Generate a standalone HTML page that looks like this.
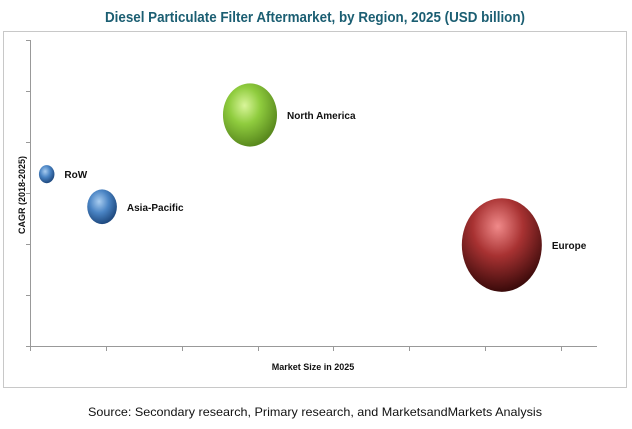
<!DOCTYPE html>
<html><head><meta charset="utf-8"><style>
body{margin:0;background:#fff;width:632px;height:429px;overflow:hidden}
svg{display:block}
</style></head><body>
<svg id="chart" width="632" height="429" viewBox="0 0 632 429">
<defs>
<radialGradient id="gGreen" cx="0.4" cy="0.35" r="0.65"><stop offset="0" stop-color="#d9f59a"/><stop offset="0.45" stop-color="#8fcc3e"/><stop offset="1" stop-color="#5a8a1e"/></radialGradient>
<radialGradient id="gBlue" cx="0.4" cy="0.35" r="0.65"><stop offset="0" stop-color="#a9cdf0"/><stop offset="0.5" stop-color="#4a84c4"/><stop offset="1" stop-color="#1f4a80"/></radialGradient>
<radialGradient id="gRed" cx="0.45" cy="0.3" r="0.7"><stop offset="0" stop-color="#f08a8a"/><stop offset="0.45" stop-color="#a83232"/><stop offset="1" stop-color="#3a0a0a"/></radialGradient>
</defs>
<text x="315" y="22" text-anchor="middle" font-family="'Liberation Sans Narrow','Liberation Sans',sans-serif" font-weight="bold" font-size="15" fill="#1b5e72" textLength="420" lengthAdjust="spacingAndGlyphs">Diesel Particulate Filter Aftermarket, by Region, 2025 (USD billion)</text>
<rect x="3.5" y="31.5" width="623" height="356" fill="none" stroke="#c8c8c8" stroke-width="1"/>
<g id="axes"></g>
<g id="bubbles"></g>
<text x="313" y="370" text-anchor="middle" font-family="'Liberation Sans',sans-serif" font-weight="bold" font-size="9" fill="#111">Market Size in 2025</text>
<text transform="translate(25,195) rotate(-90)" text-anchor="middle" font-family="'Liberation Sans',sans-serif" font-weight="bold" font-size="9" fill="#111">CAGR (2018-2025)</text>
<text x="315" y="416" text-anchor="middle" font-family="'Liberation Sans',sans-serif" font-size="12" fill="#111" textLength="454" lengthAdjust="spacingAndGlyphs">Source: Secondary research, Primary research, and MarketsandMarkets Analysis</text>
</svg>
<script>
const regions = ["RoW", "Asia-Pacific", "North America", "Europe"];
const marketSize = [0.22, 0.95, 2.9, 6.22];
const cagr = [3.37, 2.73, 4.53, 1.98];
const bubbleSize = [0.6, 2.2, 7.3, 16];
const colors = ["url(#gBlue)", "url(#gBlue)", "url(#gGreen)", "url(#gRed)"];
const xTicks = [0,1,2,3,4,5,6,7];
const yTicks = [0,1,2,3,4,5,6];

const NS = "http://www.w3.org/2000/svg";
const X0 = 30, X1 = 561, XMAX = 7, Y0 = 346, Y1 = 40, YMAX = 6;
function xs(v){ return X0 + (X1 - X0) * v / XMAX; }
function ys(v){ return Y0 - (Y0 - Y1) * v / YMAX; }
function mk(tag, attrs, parent){ const e = document.createElementNS(NS, tag); for (const k in attrs) e.setAttribute(k, attrs[k]); parent.appendChild(e); return e; }

const axes = document.getElementById("axes");
const xl = mk("line", {x1: X0, y1: Y0 + .5, x2: 597, y2: Y0 + .5, stroke: "#999"}, axes);


const yl = mk("line", {x1: X0 + .5, y1: Y1, x2: X0 + .5, y2: Y0, stroke: "#999"}, axes);


xTicks.forEach(t => {
  const l = mk("line", {x1: Math.round(xs(t)) + .5, y1: Y0, x2: Math.round(xs(t)) + .5, y2: Y0 + 5, stroke: "#999"}, axes);
  
  
});
yTicks.forEach(t => {
  const l = mk("line", {x1: X0 - 4, y1: Math.round(ys(t)) + .5, x2: X0, y2: Math.round(ys(t)) + .5, stroke: "#999"}, axes);
  
  
});

const bg = document.getElementById("bubbles");
regions.forEach((name, i) => {
  const cx = xs(marketSize[i]), cy = ys(cagr[i]);
  const r = 10 * Math.sqrt(bubbleSize[i]);
  const e = mk("ellipse", {cx: cx, cy: cy, rx: r, ry: r * 1.17, fill: colors[i]}, bg);
  
  
  const t = mk("text", {x: cx + r + 10, y: cy + 4, "font-family": "'Liberation Sans',sans-serif", "font-weight": "bold", "font-size": "10", fill: "#111"}, bg);
  t.textContent = name;
  
  
});
</script>
</body></html>
